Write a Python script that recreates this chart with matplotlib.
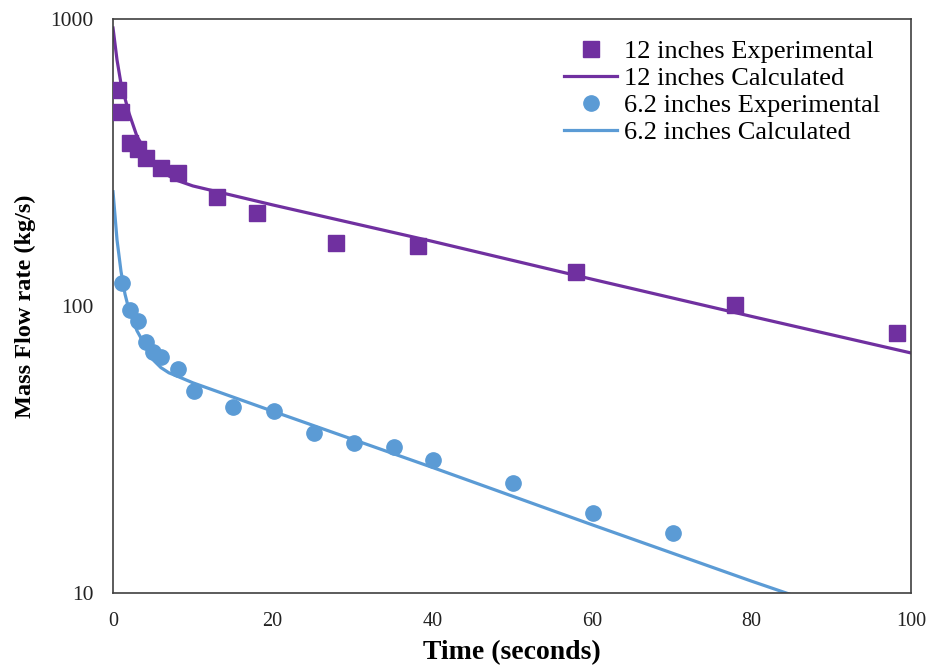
import matplotlib
matplotlib.use("Agg")
import matplotlib.pyplot as plt

# 12 inches experimental
t12_exp = [0.6, 1.0, 2.1, 3.1, 4.1, 6.0, 8.1, 13.0, 18.0, 28.0, 38.2, 58.0, 78.0, 98.2]
m12_exp = [566, 474, 370, 352, 328, 303, 291, 240, 211, 166, 162, 131, 101, 80.5]

# 12 inches calculated
t12_calc = [0, 0.5, 1, 2, 3, 4, 5, 6, 7, 8, 10, 20, 40, 60, 80, 100]
m12_calc = [930, 720, 595, 470, 390, 350, 320, 298, 284, 274, 262, 225, 168, 124, 92, 68.6]

# 6.2 inches experimental
t6_exp = [1.1, 2.1, 3.1, 4.1, 5.0, 6.0, 8.1, 10.1, 15.0, 20.2, 25.2, 30.2, 35.2, 40.1, 50.1, 60.1, 70.2]
m6_exp = [120, 96.8, 88.7, 75, 69, 66.4, 60.3, 50.6, 44.5, 43.1, 36.1, 33.3, 32.3, 29.1, 24.2, 19.0, 16.2]

# 6.2 inches calculated
t6_calc = [0, 0.5, 1, 1.5, 2, 3, 4, 5, 6, 7, 8, 10, 20, 40, 60, 80, 100]
m6_calc = [250, 170, 132, 110, 97, 82, 73, 65, 61, 58.5, 57, 54, 43, 27.4, 17.3, 11.0, 7.1]

x_ticks = [0, 20, 40, 60, 80, 100]
y_ticks = [10, 100, 1000]
y_ticklabels = ["10", "100", "1000"]

purple = "#7030A0"
blue = "#5B9BD5"

plt.rcParams['font.family'] = ['Liberation Serif', 'DejaVu Serif']

fig = plt.figure(figsize=(9.31, 6.68), dpi=100)
ax = fig.add_axes([0.1214, 0.1123, 0.8571, 0.8593])

ax.plot(t12_exp, m12_exp, linestyle='none', marker='s', markersize=11.5, color=purple,
        label='12 inches Experimental', zorder=3)
ax.plot(t12_calc, m12_calc, color=purple, linewidth=2.3, label='12 inches Calculated', zorder=2)
ax.plot(t6_exp, m6_exp, linestyle='none', marker='o', markersize=11, color=blue,
        label='6.2 inches Experimental', zorder=3)
ax.plot(t6_calc, m6_calc, color=blue, linewidth=2.3, label='6.2 inches Calculated', zorder=2)

ax.set_yscale('log')
ax.set_xlim(0, 100)
ax.set_ylim(10, 1000)
ax.set_xticks(x_ticks)
ax.set_xticklabels([str(v) for v in x_ticks])
ax.set_yticks(y_ticks)
ax.set_yticklabels(y_ticklabels)
ax.minorticks_off()
ax.tick_params(axis='x', length=0, labelsize=14.5, pad=14, colors='#222222')
ax.tick_params(axis='y', length=0, labelsize=15.5, pad=14, colors='#222222')

for s in ax.spines.values():
    s.set_color('#404040')
    s.set_linewidth(1.2)

ax.set_xlabel('Time (seconds)', fontsize=20, fontweight='bold', labelpad=6.5)
ax.set_ylabel('Mass Flow rate (kg/s)', fontsize=17.5, fontweight='bold', labelpad=10)

leg = ax.legend(loc='upper right', bbox_to_anchor=(0.975, 0.983), frameon=False,
                fontsize=19, handlelength=2.0, handletextpad=0.27, labelspacing=0.14,
                borderaxespad=0.0)

fig.savefig('out.png', dpi=100)
